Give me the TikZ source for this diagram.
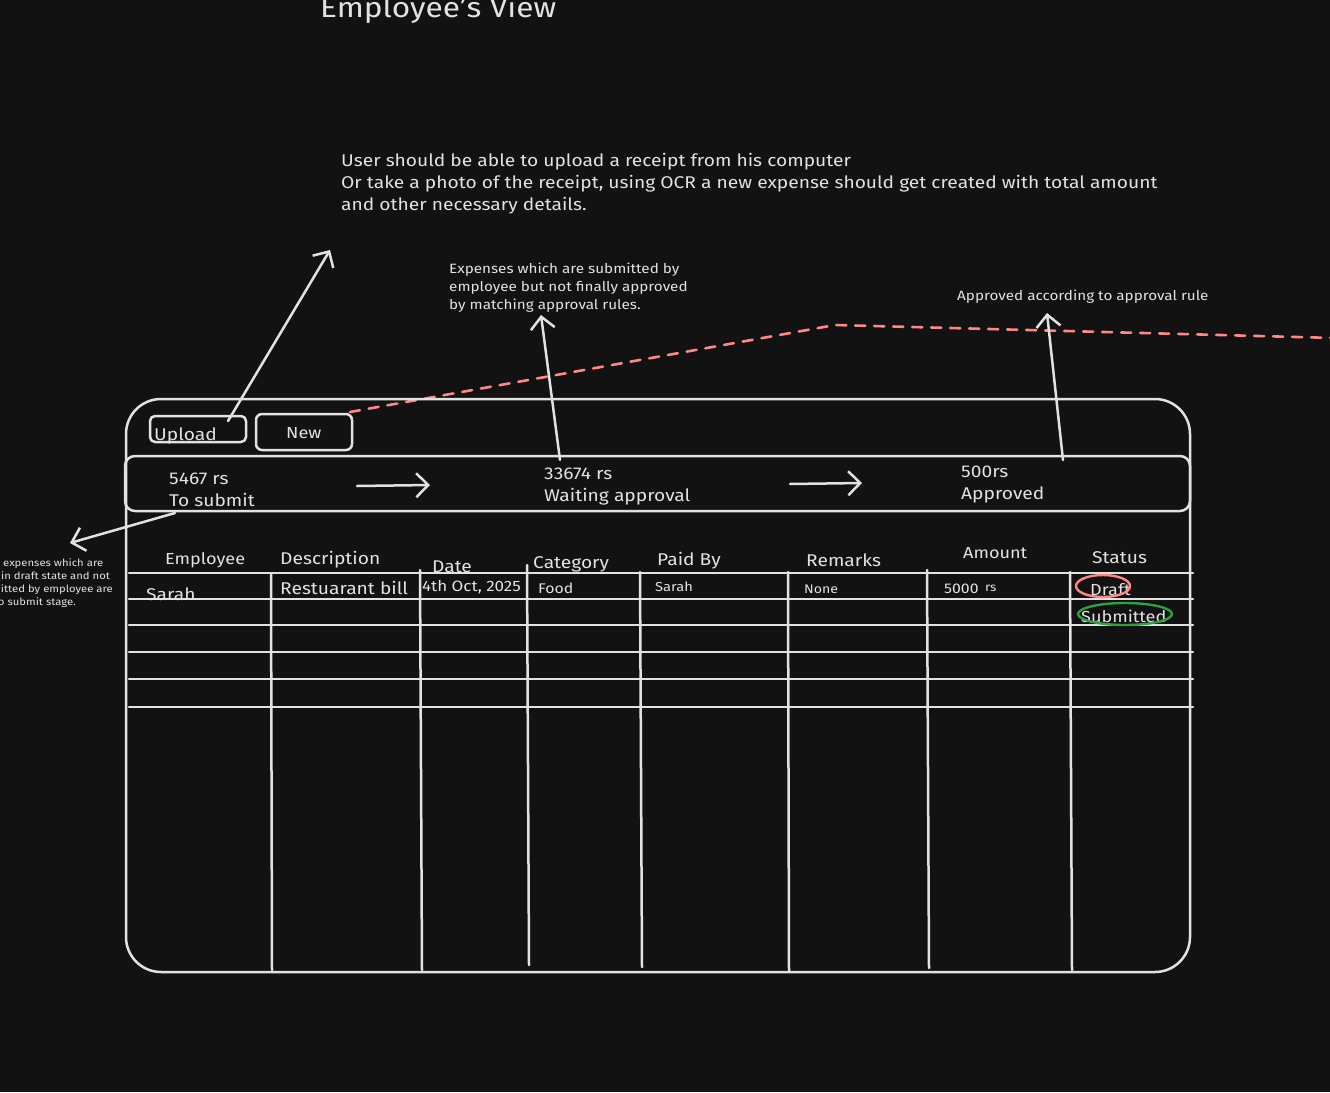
\documentclass[tikz,border=0pt]{standalone}
\usepackage{fontspec}
\setmainfont{Fira Sans}[FakeStretch=1.13]
\usetikzlibrary{arrows.meta}
\definecolor{bg}{HTML}{121212}
\definecolor{ink}{HTML}{E2E2E2}
\definecolor{redd}{HTML}{FF8787}
\definecolor{grn}{HTML}{2F9E44}
\tikzset{
  ln/.style={draw=ink, line width=2.5pt, line cap=round, line join=round},
  arr/.style={ln, -{Straight Barb[length=12pt,width=24pt,line width=2.5pt]}},
  txt/.style={text=ink, inner sep=0pt, anchor=base west},
  fs/.style={font=\fontsize{#1}{#1}\selectfont},
}
\begin{document}
\begin{tikzpicture}[x=1pt,y=-1pt]
\useasboundingbox[fill=bg] (0,0) rectangle (1330,1092);
\begin{scope}
\clip (0,0) rectangle (1330,1092);
% title
\node[txt,fs=28] (title) at (320,17) {Employee's View};
% top note
\node[txt,fs=17] (n1a) at (341,166) {User should be able to upload a receipt from his computer};
\node[txt,fs=17] (n1b) at (341,188) {Or take a photo of the receipt, using OCR a new expense should get created with total amount};
\node[txt,fs=17] (n1c) at (341,210) {and other necessary details.};
\coordinate (n1tip) at (330,250);
% second note
\node[txt,fs=13.5] (n2a) at (449,273) {Expenses which are submitted by};
\node[txt,fs=13.5] (n2b) at (449,291) {employee but not finally approved};
\node[txt,fs=13.5] (n2c) at (449,309) {by matching approval rules.};
\coordinate (n2tip) at (541,315);
% third note
\node[txt,fs=13.5] (n3) at (957,300) {Approved according to approval rule};
\coordinate (n3tip) at (1047,313);
% left note (clipped at left edge, as in the reference)
\node[txt,fs=10] (n4a) at (3,566) {expenses which are};
\node[txt,fs=10] (n4b) at (1,579) {in draft state and not};
\node[txt,fs=10,anchor=base east] (n4c) at (113,592) {submitted by employee are};
\node[txt,fs=10,anchor=base east] (n4d) at (76,605) {to submit stage.};
\coordinate (n4tip) at (70,543);
% red dashed line
\draw[draw=redd, line width=2.6pt, dash pattern=on 10pt off 9pt, line cap=round] (350,412) -- (835,325) -- (1335,338);
% outer frame
\draw[ln, rounded corners=35pt] (126,399) rectangle (1190,972);
% buttons
\draw[ln, rounded corners=5pt] (150,416) rectangle (246,442);
\node[txt,fs=17] (upl) at (154,440) {Upload};
\coordinate (uplfrom) at (228,421);
\draw[ln, rounded corners=6pt] (256,414) rectangle (352,450);
\node[txt,fs=16] (new) at (286,438) {New};
% summary bar
\draw[ln, rounded corners=10pt] (125,456) rectangle (1190,511);
\node[txt,fs=17] (s1a) at (169,484) {5467 rs};
\node[txt,fs=17] (s1b) at (169,506) {To submit};
\node[txt,fs=17] (s2a) at (544,479) {33674 rs};
\node[txt,fs=17] (s2b) at (544,501) {Waiting approval};
\node[txt,fs=17] (s3a) at (961,477) {500rs};
\node[txt,fs=17] (s3b) at (961,499) {Approved};
\coordinate (a1s) at (357,486); \coordinate (a1e) at (430,485);
\coordinate (a2s) at (790,484); \coordinate (a2e) at (862,483);
\coordinate (s2from) at (560,460);
\coordinate (s3from) at (1063,460);
\coordinate (s1from) at (175,513);
\draw[arr] (a1s) -- (a1e);
\draw[arr] (a2s) -- (a2e);
\draw[arr] (uplfrom) -- (n1tip);
\draw[arr] (s2from) -- (n2tip);
\draw[arr] (s3from) -- (n3tip);
\draw[arr] (s1from) -- (n4tip);
% table lines
\foreach \y in {573,599,625,652,679,707} \draw[ln] (129,\y) -- (1193,\y);
\draw[ln] (271,574) -- (272,970);
\draw[ln] (420,570) -- (422,970);
\draw[ln] (527,565) -- (529,965);
\draw[ln] (640,572) -- (642,967);
\draw[ln] (788,572) -- (789,972);
\draw[ln] (927,570) -- (929,968);
\draw[ln] (1070,572) -- (1072,970);
% headers
\node[txt,fs=16] (hEmp) at (165,564) {Employee};
\node[txt,fs=17] (hDes) at (280,564) {Description};
\node[txt,fs=17] (hDat) at (432,572) {Date};
\node[txt,fs=17] (hCat) at (533,568) {Category};
\node[txt,fs=17] (hPai) at (657,565) {Paid By};
\node[txt,fs=17] (hRem) at (806,566) {Remarks};
\node[txt,fs=16] (hAmt) at (963,558) {Amount};
\node[txt,fs=17] (hSta) at (1092,563) {Status};
% row 1
\node[txt,fs=17] (r1a) at (146,600) {Sarah};
\node[txt,fs=17] (r1b) at (280,594) {Restuarant bill};
\node[txt,fs=15] (r1c) at (422,591) {4th Oct, 2025};
\node[txt,fs=14] (r1d) at (538,593) {Food};
\node[txt,fs=13] (r1e) at (655,591) {Sarah};
\node[txt,fs=12.5] (r1f) at (804,593) {None};
\node[txt,fs=14] (r1g) at (944,593) {5000};
\node[txt,fs=12] (r1h) at (985,591) {rs};
\node[txt,fs=16] (r1i) at (1090,595) {Draft};
\draw[draw=redd, line width=2.4pt] (1103,586) ellipse[x radius=27pt, y radius=11pt];
% row 2
\node[txt,fs=16] (r2i) at (1081,622) {Submitted};
\draw[draw=grn, line width=2.4pt] (1125,614) ellipse[x radius=47pt, y radius=11pt];
\end{scope}
\end{tikzpicture}
\end{document}
